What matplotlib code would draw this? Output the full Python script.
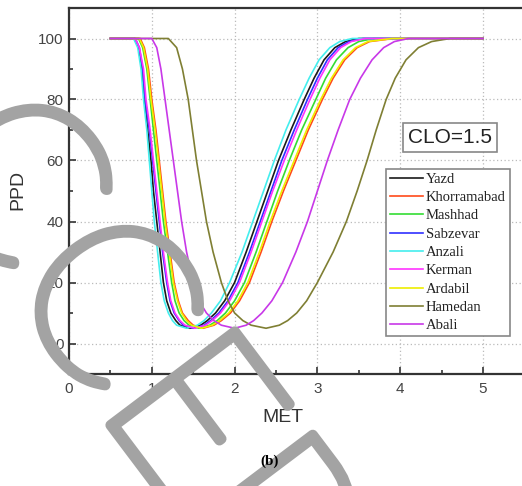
import matplotlib.pyplot as plt
import matplotlib.patheffects as pe
from matplotlib.ticker import MultipleLocator

# PPD levels along each curve: falling branch, lowest point, rising branch
ppd_falling = [100, 97, 90, 80, 70, 60, 50, 40, 30, 20, 14, 10, 7.5, 6]
ppd_lowest = 5
ppd_rising = [6, 7.5, 10, 14, 20, 30, 40, 50, 60, 70, 80, 87, 93, 97, 99, 100]
met_start, met_end = 0.5, 5.0

cities = ["Yazd", "Khorramabad", "Mashhad", "Sabzevar", "Anzali",
          "Kerman", "Ardabil", "Hamedan", "Abali"]
colors = ["#1a1a1a", "#ff4a1a", "#33dd33", "#3030ff", "#44eeee",
          "#ff33ff", "#eeee00", "#7f7f33", "#c838e8"]

# MET where each curve passes the falling levels
met_falling = {
    "Yazd":        [0.79, 0.84, 0.88, 0.91, 0.95, 0.99, 1.02, 1.06, 1.10, 1.14, 1.18, 1.23, 1.29, 1.34],
    "Khorramabad": [0.86, 0.91, 0.96, 1.00, 1.05, 1.09, 1.13, 1.17, 1.22, 1.27, 1.32, 1.37, 1.44, 1.50],
    "Mashhad":     [0.84, 0.89, 0.94, 0.98, 1.02, 1.06, 1.10, 1.14, 1.19, 1.24, 1.28, 1.33, 1.39, 1.45],
    "Sabzevar":    [0.80, 0.85, 0.89, 0.92, 0.97, 1.01, 1.05, 1.09, 1.13, 1.18, 1.22, 1.27, 1.33, 1.38],
    "Anzali":      [0.78, 0.83, 0.87, 0.90, 0.94, 0.97, 1.00, 1.03, 1.07, 1.11, 1.15, 1.20, 1.25, 1.30],
    "Kerman":      [0.80, 0.85, 0.90, 0.93, 0.98, 1.02, 1.06, 1.10, 1.14, 1.19, 1.23, 1.28, 1.34, 1.40],
    "Ardabil":     [0.85, 0.90, 0.95, 0.99, 1.04, 1.08, 1.12, 1.16, 1.21, 1.26, 1.31, 1.36, 1.42, 1.48],
    "Hamedan":     [1.20, 1.30, 1.37, 1.44, 1.49, 1.54, 1.60, 1.66, 1.74, 1.84, 1.92, 2.00, 2.10, 2.20],
    "Abali":       [1.00, 1.06, 1.11, 1.16, 1.21, 1.26, 1.31, 1.36, 1.42, 1.50, 1.57, 1.66, 1.75, 1.84],
}

# MET of the lowest PPD
met_lowest = {
    "Yazd": 1.46, "Khorramabad": 1.62, "Mashhad": 1.57, "Sabzevar": 1.50,
    "Anzali": 1.42, "Kerman": 1.52, "Ardabil": 1.60, "Hamedan": 2.38, "Abali": 2.00,
}

# MET where each curve passes the rising levels
met_rising = {
    "Yazd":        [1.59, 1.67, 1.77, 1.88, 2.00, 2.14, 2.27, 2.40, 2.53, 2.68, 2.84, 2.96, 3.08, 3.21, 3.34, 3.50],
    "Khorramabad": [1.75, 1.84, 1.95, 2.06, 2.18, 2.32, 2.45, 2.59, 2.74, 2.89, 3.06, 3.19, 3.33, 3.48, 3.63, 3.92],
    "Mashhad":     [1.70, 1.79, 1.89, 2.00, 2.12, 2.26, 2.39, 2.52, 2.66, 2.81, 2.98, 3.10, 3.23, 3.37, 3.50, 3.68],
    "Sabzevar":    [1.63, 1.71, 1.81, 1.92, 2.04, 2.18, 2.31, 2.44, 2.57, 2.72, 2.88, 3.00, 3.12, 3.25, 3.38, 3.55],
    "Anzali":      [1.55, 1.63, 1.72, 1.83, 1.94, 2.09, 2.22, 2.35, 2.48, 2.62, 2.78, 2.90, 3.02, 3.15, 3.27, 3.42],
    "Kerman":      [1.65, 1.73, 1.83, 1.94, 2.06, 2.20, 2.33, 2.46, 2.60, 2.75, 2.91, 3.03, 3.15, 3.28, 3.41, 3.58],
    "Ardabil":     [1.73, 1.82, 1.93, 2.04, 2.16, 2.30, 2.43, 2.57, 2.72, 2.87, 3.04, 3.17, 3.31, 3.46, 3.61, 3.90],
    "Hamedan":     [2.54, 2.64, 2.75, 2.87, 3.00, 3.19, 3.35, 3.48, 3.60, 3.71, 3.83, 3.94, 4.07, 4.22, 4.38, 4.60],
    "Abali":       [2.14, 2.23, 2.33, 2.45, 2.58, 2.74, 2.88, 3.00, 3.12, 3.25, 3.39, 3.52, 3.66, 3.80, 3.93, 4.10],
}

W, H = 522, 486
fig = plt.figure(figsize=(W / 100, H / 100), dpi=100)
ax = fig.add_axes([69 / W, 1 - 374 / H, 455.4 / W, 366 / H])

for city, col in zip(cities, colors):
    x = [met_start] + met_falling[city] + [met_lowest[city]] + met_rising[city] + [met_end]
    y = [100] + ppd_falling + [ppd_lowest] + ppd_rising + [100]
    ax.plot(x, y, color=col, lw=1.2, label=city)

ax.set_xlim(0, 5.5)
ax.set_ylim(-10, 110)
ax.xaxis.set_major_locator(MultipleLocator(1))
ax.xaxis.set_minor_locator(MultipleLocator(0.5))
ax.yaxis.set_major_locator(MultipleLocator(20))
ax.yaxis.set_minor_locator(MultipleLocator(10))
ax.tick_params(which="both", direction="in", width=1.2, colors="#333333",
               labelsize=11, labelcolor="#444444")
ax.tick_params(which="major", length=5)
ax.tick_params(which="minor", length=3)
ax.tick_params(axis="x", pad=6)
ax.tick_params(axis="y", pad=4)
for lab in ax.get_xticklabels() + ax.get_yticklabels():
    lab.set_family("Liberation Sans")
ax.grid(True, which="major", ls=(0, (1, 2)), color="#bbbbbb", lw=0.9)
for s in ax.spines.values():
    s.set_linewidth(1.6)
    s.set_color("#333333")

fig.text(18 / W, 1 - 190 / H, "PPD", rotation=90, ha="center", va="center",
         fontsize=14, color="#333333", family="Liberation Sans")
fig.text(283 / W, 1 - 418 / H, "MET", ha="center", va="center",
         fontsize=14, color="#333333", family="Liberation Sans")
fig.text(270 / W, 1 - 461 / H, "(b)", ha="center", va="center",
         fontsize=11, fontweight="bold", family="Liberation Serif", zorder=12)

ax.text(450 / W, 1 - 137.5 / H, "CLO=1.5", transform=fig.transFigure,
        ha="center", va="center", fontsize=15, family="Liberation Sans",
        color="#222222",
        bbox=dict(boxstyle="square,pad=0.25", fc="white", ec="#888888", lw=1.2))

leg = ax.legend(loc="upper left", bbox_to_anchor=(386 / W, 1 - 169 / H),
                bbox_transform=fig.transFigure, borderaxespad=0,
                prop={"family": "Liberation Serif", "size": 10.5},
                handlelength=2.3, handletextpad=0.2, labelspacing=0.35,
                borderpad=0.25, fancybox=False, framealpha=1)
leg.get_frame().set_edgecolor("#888888")
leg.get_frame().set_linewidth(1.2)
for t in leg.get_texts():
    t.set_color("#222222")

# diagonal watermark in a thin face
fig.text(-0.331, 0.899, "ACCEPTED MANUSCRIPT", rotation=-53, rotation_mode="anchor",
         ha="left", va="baseline", fontsize=160, family="Lato", fontweight=100,
         color="#a3a3a3", zorder=10,
         path_effects=[pe.Stroke(linewidth=7.5, foreground="#a3a3a3"), pe.Normal()])

fig.savefig("out.png", dpi=100)
